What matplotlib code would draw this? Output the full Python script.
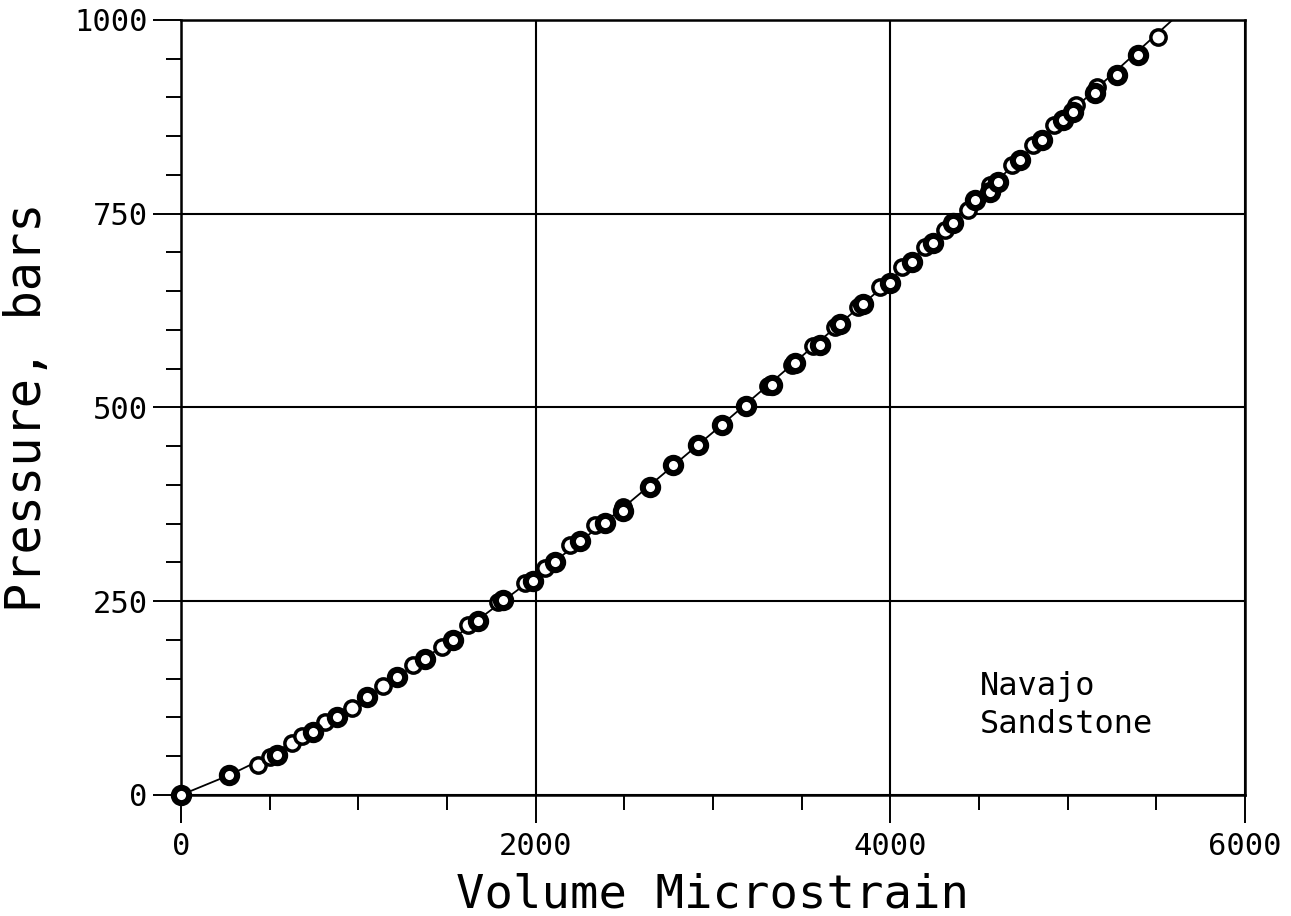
import matplotlib.pyplot as plt
from matplotlib.ticker import MultipleLocator

# Volumetric strain vs confining pressure, Navajo sandstone
# open markers: first run
strain_a = [434, 502, 626, 682, 812, 964, 1139, 1308, 1472, 1618, 1788,
            1940, 2053, 2194, 2335, 2492, 3310, 3445, 3564, 3688, 3818,
            3942, 4066, 4195, 4308, 4438, 4562, 4686, 4804, 4923, 5047,
            5165, 5509]
press_a = [39, 49, 67, 76, 94, 112, 141, 168, 191, 219, 249,
           273, 293, 323, 348, 372, 528, 555, 579, 604, 630,
           656, 681, 707, 729, 755, 787, 813, 839, 864, 890,
           913, 978]
# heavy markers: second run
strain_b = [0, 270, 541, 744, 880, 1049, 1218, 1376, 1534, 1675, 1816,
            1985, 2110, 2250, 2391, 2492, 2645, 2775, 2916, 3051, 3186,
            3333, 3462, 3603, 3716, 3846, 3998, 4122, 4240, 4353, 4477,
            4562, 4607, 4731, 4855, 4974, 5030, 5154, 5278, 5397]
press_b = [0, 26, 52, 81, 101, 127, 152, 175, 200, 225, 252,
           276, 300, 328, 351, 366, 397, 426, 452, 477, 502,
           529, 557, 581, 608, 634, 661, 688, 712, 738, 768,
           778, 791, 819, 845, 871, 881, 906, 929, 955]
# fitted curve
curve_x = [0, 276, 500, 1000, 1500, 2000, 2500, 3000, 3500, 4000, 4500,
           5000, 5600]
curve_y = [0, 26, 51, 118, 196, 282, 372, 468, 566, 664, 771,
           878, 1002]

x_ticks = [0, 2000, 4000, 6000]
y_ticks = [0, 250, 500, 750, 1000]

plt.rcParams['font.family'] = ['DejaVu Sans Mono']
fig = plt.figure(figsize=(12.91, 9.16), dpi=100)
ax = fig.add_axes([0.1402, 0.1321, 0.8242, 0.8461])

ax.plot(curve_x, curve_y, 'k', lw=1.3, zorder=3)
ax.plot(strain_a, press_a, 'o', ms=11, mfc='white', mec='k', mew=2.5,
        zorder=4, clip_on=False)
ax.plot(strain_b, press_b, 'o', ms=11, mfc='white', mec='k', mew=4.4,
        zorder=4, clip_on=False)

ax.set_xlim(0, 6000)
ax.set_ylim(0, 1000)
ax.set_xticks(x_ticks)
ax.set_yticks(y_ticks)
ax.xaxis.set_minor_locator(MultipleLocator(500))
ax.yaxis.set_minor_locator(MultipleLocator(50))
ax.tick_params(which='major', direction='out', length=20, width=1.4,
               labelsize=22, pad=7)
ax.tick_params(axis='y', which='major', pad=4)
ax.tick_params(which='minor', direction='out', length=11, width=1.4)
ax.grid(True, which='major', color='k', lw=1.5)
for s in ax.spines.values():
    s.set_linewidth(1.8)

fig.text(713 / 1291, 8 / 916, 'Volume Microstrain', fontsize=34,
         ha='center', va='baseline')
fig.text(27 / 1291, 0.555, 'Pressure, bars', fontsize=35, rotation=90,
         ha='center', va='center')
ax.text(4506, 115, 'Navajo\nSandstone', fontsize=23, ha='left',
        va='center', linespacing=1.3)

fig.savefig('out.png', dpi=100)
